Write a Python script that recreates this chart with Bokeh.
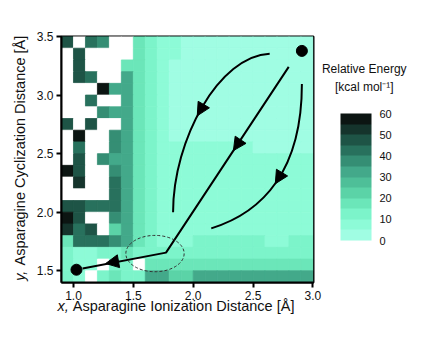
import numpy as np
from bokeh.plotting import figure
from bokeh.models import (LinearColorMapper, ColorBar, FixedTicker, Label, Arrow,
                          NormalHead, ColumnDataSource, Range1d, PrintfTickFormatter)
from bokeh.embed import file_html
from bokeh.resources import INLINE

N = np.nan
# cell centres (Å)
X_CENTERS = [0.95, 1.05, 1.15, 1.25, 1.35, 1.45, 1.55, 1.65, 1.75, 1.85, 1.95,
             2.05, 2.15, 2.25, 2.35, 2.45, 2.55, 2.65, 2.75, 2.85, 2.95]
Y_CENTERS = [3.45, 3.35, 3.25, 3.15, 3.05, 2.95, 2.85, 2.75, 2.65, 2.55, 2.45,
             2.35, 2.25, 2.15, 2.05, 1.95, 1.85, 1.75, 1.65, 1.55, 1.45]
# relative energy (kcal/mol), rows top (y=3.45) to bottom (y=1.45); NaN = no data
ENERGY = [
    [47, N, 42, 37, N, N, 17, 12, 7, 7, 2, 2, 2, 2, 2, 2, 2, 2, 2, 2, 2],
    [N, 47, N, N, N, N, 17, 12, 7, 7, 2, 2, 2, 2, 2, 2, 2, 2, 2, 2, 2],
    [N, 47, N, N, N, 17, 17, 12, 7, 2, 2, 2, 2, 2, 2, 2, 2, 2, 2, 2, 2],
    [N, 47, 42, N, N, 32, 17, 12, 7, 2, 2, 2, 2, 2, 2, 2, 2, 2, 2, 2, 2],
    [N, N, N, 57, 32, 32, 17, 12, 7, 2, 2, 2, 2, 2, 2, 2, 2, 2, 2, 2, 2],
    [N, N, 42, N, N, 32, 17, 12, 7, 2, 2, 2, 2, 2, 2, 2, 2, 2, 2, 2, 2],
    [N, N, N, 38, 33, 32, 17, 12, 7, 2, 2, 2, 2, 2, 2, 2, 2, 2, 2, 2, 2],
    [47, N, 47, N, N, 32, 17, 12, 7, 2, 2, 2, 2, 2, 2, 2, 2, 2, 2, 2, 2],
    [N, 57, N, N, 37, 32, 17, 12, 7, 2, 2, 2, 2, 2, 2, 2, 2, 2, 2, 2, 2],
    [N, 42, N, N, 37, 32, 17, 12, 7, 7, 7, 7, 7, 7, 7, 7, 2, 2, 2, 2, 2],
    [N, 47, N, 37, 32, 32, 17, 12, 7, 7, 7, 7, 7, 7, 7, 7, 7, 7, 7, 7, 7],
    [57, 47, N, N, 37, 32, 17, 12, 7, 7, 7, 7, 7, 7, 7, 7, 7, 7, 7, 7, 7],
    [N, 52, N, N, 42, 32, 17, 12, 7, 7, 7, 7, 7, 7, 7, 7, 7, 7, 7, 7, 7],
    [N, N, N, N, 42, 32, 17, 12, 7, 7, 7, 7, 7, 7, 7, 7, 7, 7, 7, 7, 7],
    [47, 47, 42, 42, 42, 32, 17, 12, 7, 7, 7, 7, 7, 7, 7, 7, 7, 7, 7, 7, 7],
    [57, 47, N, N, 37, 32, 17, 12, 7, 7, 7, 7, 7, 7, 7, 7, 7, 7, 7, 7, 7],
    [52, 42, 47, N, 22, 32, 17, 12, 7, 7, 7, 7, 7, 7, 7, 7, 7, 7, 7, 7, 7],
    [17, 42, 42, 42, 37, 32, 17, 12, 7, 7, 7, 12, 12, 12, 12, 12, 12, 7, 7, 12, 12],
    [12, 7, 7, 12, 12, 17, 12, 12, 12, 12, 12, 12, 12, 12, 12, 12, 12, 12, 12, 12, 12],
    [12, 7, 7, N, 12, 12, N, 17, 17, 17, 17, 17, 17, 17, 17, 17, 17, 17, 17, 17, 17],
    [12, 7, N, 12, 17, 12, 12, 32, 32, 22, 22, 32, 32, 32, 32, 32, 32, 32, 32, 32, 32],
]
PALETTE = ["#a0fde3", "#8dfbd7", "#7cf4ca", "#6be6b9", "#5bd3a7", "#4ebf98",
           "#43a98a", "#358e74", "#28715d", "#1e5446", "#15342c", "#0c1512"]
CB_TICKS = [0, 10, 20, 30, 40, 50, 60]
X_TICKS = [1.0, 1.5, 2.0, 2.5, 3.0]
Y_TICKS = [1.5, 2.0, 2.5, 3.0, 3.5]

# reaction path annotations (Å)
PATH_X = [2.798, 1.773, 1.076]
PATH_Y = [3.241, 1.655, 1.520]
DOTS_X = [2.908, 1.025]
DOTS_Y = [3.377, 1.509]
CURVE_A = dict(x0=2.639, y0=3.353, cx0=2.218, cy0=3.336, cx1=1.832, cy1=2.621, x1=1.832, y1=2.0)
CURVE_B = dict(x0=2.908, y0=3.095, cx0=2.908, cy0=2.362, cx1=2.588, cy1=2.0, x1=2.151, y1=1.862)
HEADS = [((2.105, 2.948), (2.034, 2.823)),
         ((2.746, 2.345), (2.686, 2.243)),
         ((2.403, 2.629), (2.336, 2.526)),
         ((1.378, 1.582), (1.269, 1.562))]
ELLIPSE = dict(x=1.681, y=1.647, w=0.487, h=0.310)

FONT = "Liberation Sans"

xs, ys, es = [], [], []
for j, yc in enumerate(Y_CENTERS):
    for i, xc in enumerate(X_CENTERS):
        xs.append(xc); ys.append(yc); es.append(ENERGY[j][i])
src = ColumnDataSource(dict(x=xs, y=ys, e=es))

mapper = LinearColorMapper(palette=PALETTE, low=0, high=60, nan_color="white")

p = figure(frame_width=252, frame_height=246, x_range=Range1d(0.9, 3.005), y_range=Range1d(1.4, 3.5),
           output_backend="svg", toolbar_location=None, title=None,
           min_border_left=61, min_border_right=119, min_border_top=36, min_border_bottom=50)
p.rect("x", "y", width=0.1, height=0.1, source=src,
       fill_color={"field": "e", "transform": mapper},
       line_color={"field": "e", "transform": mapper}, line_width=0.8)

p.grid.visible = False
p.outline_line_color = "black"
p.outline_line_width = 2
for ax, ticks in ((p.xaxis[0], X_TICKS), (p.yaxis[0], Y_TICKS)):
    ax.ticker = FixedTicker(ticks=ticks)
    ax.formatter = PrintfTickFormatter(format="%.1f")
    ax.axis_line_width = 2
    ax.axis_line_color = "black"
    ax.major_tick_line_width = 2
    ax.major_tick_line_color = "black"
    ax.major_tick_out = 5
    ax.major_tick_in = 0
    ax.minor_tick_line_color = None
    ax.major_label_text_font = FONT
    ax.major_label_text_font_size = "12px"
    ax.major_label_text_color = "#111111"
    ax.major_label_standoff = 3

# path
p.line(PATH_X, PATH_Y, line_width=2, line_color="black")
p.bezier(line_width=2, line_color="black", **CURVE_A)
p.bezier(line_width=2, line_color="black", **CURVE_B)
p.ellipse(x=[ELLIPSE["x"]], y=[ELLIPSE["y"]], width=[ELLIPSE["w"]], height=[ELLIPSE["h"]],
          fill_color=None, line_color="#333333", line_width=1, line_dash="3 2")
p.scatter(DOTS_X, DOTS_Y, size=11, color="black")
for (s, e) in HEADS:
    p.add_layout(Arrow(end=NormalHead(size=13, fill_color="black", line_color="black", line_width=1),
                       x_start=s[0], y_start=s[1], x_end=e[0], y_end=e[1],
                       line_alpha=0, line_width=0))

cb = ColorBar(color_mapper=mapper, ticker=FixedTicker(ticks=CB_TICKS), width=31, height=127,
              location=(27, 42), padding=0, margin=0, major_tick_line_color=None,
              bar_line_color=None, major_label_text_font=FONT,
              major_label_text_font_size="11px", label_standoff=8,
              major_label_text_color="#111111")
p.add_layout(cb, "right")

# texts placed in side panels (side chosen only for spacing), positioned in data units
def lab(side, text, x, y, **kw):
    p.add_layout(Label(x=x, y=y, text=text, text_font=FONT, text_color="#111111", **kw), side)

lab("above", "Relative Energy", 3.429, 3.224, text_font_size="12px", text_align="center", text_baseline="middle")
lab("above", "[kcal mol⁻¹]", 3.429, 3.069, text_font_size="12px", text_align="center", text_baseline="middle")
lab("right", "x,", 0.866, 1.198, text_font_size="14.5px", text_font_style="italic",
    text_align="left", text_baseline="middle")
lab("below", "Asparagine Ionization Distance [Å]", 0.994, 1.198, text_font_size="14.5px",
    text_align="left", text_baseline="middle")
lab("right", "y,", 0.555, 1.414, text_font_size="14.5px", text_font_style="italic", text_align="left",
    text_baseline="middle", angle=np.pi / 2)
lab("left", "Asparagine Cyclization Distance [Å]", 0.555, 1.546, text_font_size="14.5px",
    text_align="left", text_baseline="middle", angle=np.pi / 2)

open("out.html", "w").write(file_html(p, INLINE))
